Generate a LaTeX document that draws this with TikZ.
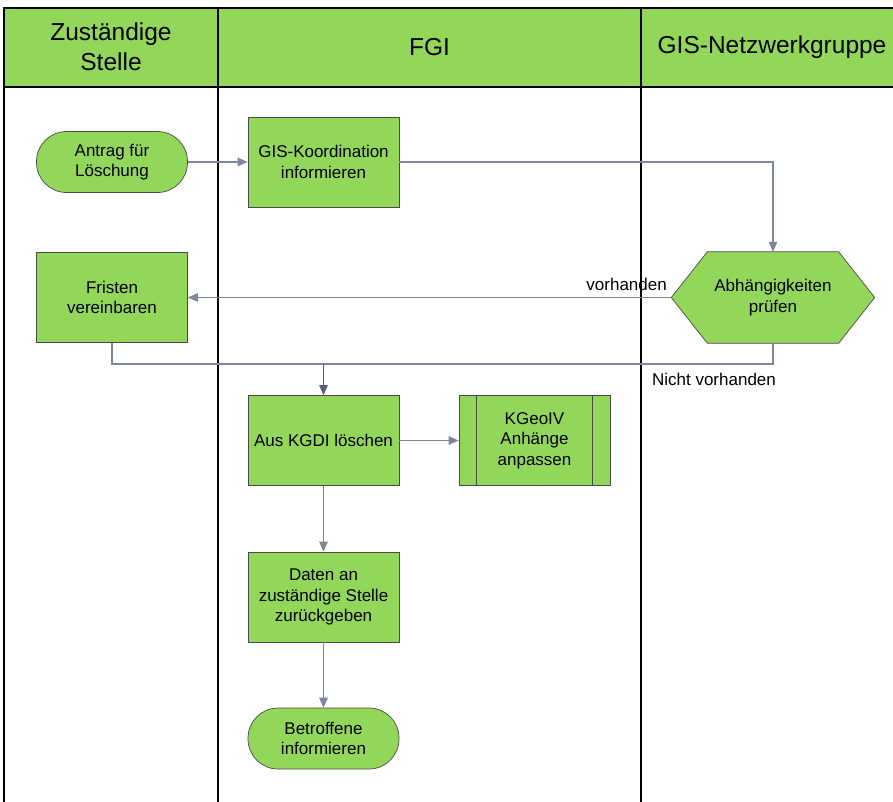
\documentclass[tikz,border=0pt]{standalone}
\usepackage{fontspec}
\setmainfont{Liberation Sans}
\usetikzlibrary{arrows.meta,calc}

\definecolor{lanegreen}{HTML}{92D65A}
\definecolor{boxgreen}{HTML}{92D65A}
\definecolor{boxline}{HTML}{4A4A4A}
\definecolor{flow}{HTML}{7C8799}
\definecolor{flowdark}{HTML}{56627A}

\tikzset{
  lane/.style={draw=black, line width=1.2pt},
  head/.style={font=\fontsize{24.5}{30}\selectfont, align=center, text=black},
  stepbox/.style={draw=boxline, fill=boxgreen, line width=0.7pt,
    minimum width=151pt, minimum height=90pt, align=center,
    font=\fontsize{17}{20.5}\selectfont, inner sep=0pt},
  terminal/.style={stepbox, minimum height=61pt, rounded corners=30pt},
  hexnode/.style={minimum width=203pt, minimum height=91pt, align=center,
    font=\fontsize{17}{20.5}\selectfont, inner sep=0pt},
  hexfill/.style={draw=boxline, fill=boxgreen, line width=0.7pt},
  conn/.style={draw=flow, line width=1.3pt,
    -{Triangle[length=10pt,width=8.5pt]}},
  plainconn/.style={draw=flow, line width=1.3pt},
  lbl/.style={font=\fontsize{17}{20}\selectfont, inner sep=0pt},
}

\begin{document}
\begin{tikzpicture}[x=1pt,y=-1pt]
\useasboundingbox (0,0) rectangle (893,801);
\clip (0,0) rectangle (893,801);

% swimlane header and lane borders
\fill[lanegreen] (4,8) rectangle (900,87);
\draw[lane] (900,8) -- (4,8) -- (4,805);
\draw[lane] (4,87) -- (900,87);
\draw[lane] (218,8) -- (218,805);
\draw[lane] (641,8) -- (641,805);

\node[head] (h1) at (111,47) {Zuständige\\Stelle};
\node[head] (h2) at (429.5,47) {FGI};
\node[head] (h3) at (772,47) {GIS-Netzwerkgruppe};

% process steps
\node[terminal] (antrag) at (112,162) {Antrag für\\Löschung};
\node[stepbox] (koord) at (323.5,162) {GIS-Koordination\\informieren};
\node[stepbox] (fristen) at (112,297.5) {Fristen\\vereinbaren};

% decision hexagon
\node[hexnode] (hex) at (773,297.5) {};
\path[hexfill] (hex.west) -- ($(hex.north west)+(36,0)$) -- ($(hex.north east)+(-36,0)$)
  -- (hex.east) -- ($(hex.south east)+(-36,0)$) -- ($(hex.south west)+(36,0)$) -- cycle;
\node[hexnode] (hextext) at (hex.center) {Abhängigkeiten\\prüfen};

\node[stepbox] (loeschen) at (323.5,440.5) {Aus KGDI löschen};
\node[stepbox] (kgeo) at (534.5,440.5) {KGeoIV\\Anhänge\\anpassen};
\draw[boxline, line width=0.7pt] ($(kgeo.north west)+(18,0)$) -- ($(kgeo.south west)+(18,0)$);
\draw[boxline, line width=0.7pt] ($(kgeo.north east)+(-18,0)$) -- ($(kgeo.south east)+(-18,0)$);
\node[stepbox] (daten) at (323.5,597) {Daten an\\zuständige Stelle\\zurückgeben};
\node[terminal] (betroffen) at (323.5,738.5) {Betroffene\\informieren};

% connectors
\coordinate (merge) at (323.5,364);
\coordinate (corner) at (773,162);
\draw[conn] (antrag) -- (koord);
\draw[conn] (koord.east) -- (corner) -- (hex.north);
\draw[conn] (hex.west) -- (fristen.east);
\draw[plainconn] (fristen.south) -- (fristen.south |- merge) -- (hex.south |- merge) -- (hex.south);
\draw[conn, draw=flowdark] (merge) -- (loeschen.north);
\draw[conn] (loeschen) -- (kgeo);
\draw[conn] (loeschen) -- (daten);
\draw[conn] (daten) -- (betroffen);

% branch labels
\node[lbl, anchor=base east] (yes) at (667,290) {vorhanden};
\node[lbl, anchor=base] (no) at (714,385.5) {Nicht vorhanden};
\end{tikzpicture}
\end{document}
